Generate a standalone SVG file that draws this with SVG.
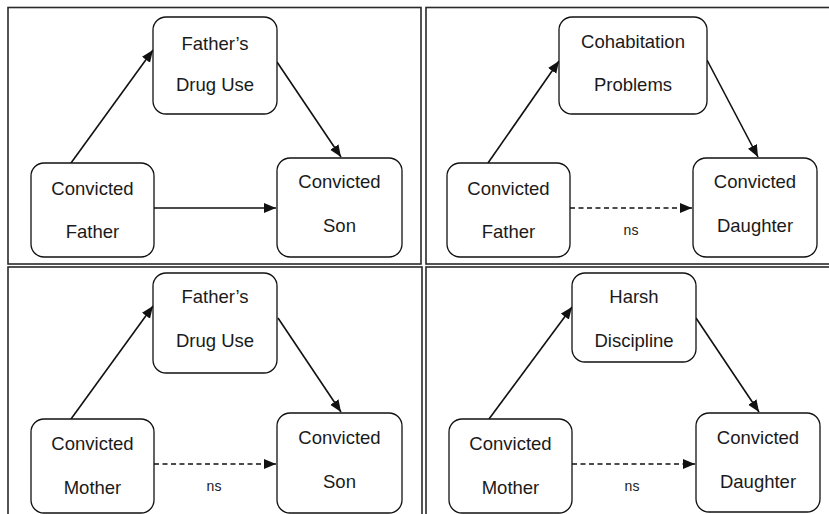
<svg xmlns="http://www.w3.org/2000/svg" width="829" height="514" viewBox="0 0 829 514">
<style>
.frame{fill:none;stroke:#2a2a2a;stroke-width:1.6}
.node rect{fill:#fff;stroke:#111;stroke-width:1.3}
.node text{font-family:"Liberation Sans",Arial,sans-serif;font-size:18.5px;fill:#1a1a1a;text-anchor:middle}
.edge{stroke:#111;stroke-width:1.6;fill:none;marker-end:url(#ah)}
.dash{stroke-dasharray:5 3.5}
.lbl{font-family:"Liberation Sans",Arial,sans-serif;font-size:14px;fill:#1a1a1a;text-anchor:middle}
</style>
<defs>
<marker id="ah" markerUnits="userSpaceOnUse" markerWidth="14" markerHeight="12" refX="12" refY="5" orient="auto">
<path d="M0,0 L12,5 L0,10 z" fill="#111"/>
</marker>
</defs>
<rect width="829" height="514" fill="#fff"/>
<g id="frames">
<rect class="frame" x="8" y="7.5" width="413" height="256.5"/>
<rect class="frame" x="426" y="7.5" width="420" height="256.5"/>
<rect class="frame" x="8" y="267" width="414" height="260"/>
<rect class="frame" x="426" y="267" width="420" height="260"/>
</g>
<g id="connectors">
<line class="edge" x1="71" y1="163" x2="153" y2="50"/>
<line class="edge" x1="277" y1="62" x2="341" y2="157"/>
<line class="edge" x1="154" y1="208" x2="276" y2="208"/>
<line class="edge" x1="488" y1="163" x2="559" y2="61"/>
<line class="edge" x1="707" y1="60" x2="758" y2="157"/>
<line class="edge dash" x1="570" y1="208" x2="692" y2="208"/>
<line class="edge" x1="71" y1="419" x2="153" y2="306"/>
<line class="edge" x1="278" y1="318" x2="341" y2="412"/>
<line class="edge dash" x1="154" y1="464" x2="276" y2="464"/>
<line class="edge" x1="489" y1="419" x2="572" y2="307"/>
<line class="edge" x1="696" y1="318" x2="759" y2="412"/>
<line class="edge dash" x1="572" y1="464" x2="695" y2="464"/>
</g>
<g id="labels">
<text class="lbl" x="631" y="235">ns</text>
<text class="lbl" x="214" y="491">ns</text>
<text class="lbl" x="632" y="491">ns</text>
</g>
<g id="p1-drug" class="node"><rect x="153" y="17" width="124" height="97" rx="13"/><text x="215" y="50">Father’s</text><text x="215" y="91">Drug Use</text></g>
<g id="p1-father" class="node"><rect x="31" y="163" width="123" height="94" rx="13"/><text x="92.5" y="195">Convicted</text><text x="92.5" y="238">Father</text></g>
<g id="p1-son" class="node"><rect x="277" y="158" width="125" height="99" rx="13"/><text x="339.5" y="188">Convicted</text><text x="339.5" y="232">Son</text></g>
<g id="p2-cohab" class="node"><rect x="559" y="17" width="148" height="97" rx="13"/><text x="633" y="48">Cohabitation</text><text x="633" y="91">Problems</text></g>
<g id="p2-father" class="node"><rect x="447" y="163" width="123" height="94" rx="13"/><text x="508.5" y="195">Convicted</text><text x="508.5" y="238">Father</text></g>
<g id="p2-daughter" class="node"><rect x="693" y="158" width="124" height="99" rx="13"/><text x="755" y="188">Convicted</text><text x="755" y="232">Daughter</text></g>
<g id="p3-drug" class="node"><rect x="153" y="273" width="124" height="100" rx="13"/><text x="215" y="303">Father’s</text><text x="215" y="347">Drug Use</text></g>
<g id="p3-mother" class="node"><rect x="31" y="419" width="123" height="94" rx="13"/><text x="92.5" y="450">Convicted</text><text x="92.5" y="494">Mother</text></g>
<g id="p3-son" class="node"><rect x="277" y="413" width="125" height="100" rx="13"/><text x="339.5" y="444">Convicted</text><text x="339.5" y="488">Son</text></g>
<g id="p4-harsh" class="node"><rect x="572" y="273" width="124" height="89" rx="13"/><text x="634" y="303">Harsh</text><text x="634" y="347">Discipline</text></g>
<g id="p4-mother" class="node"><rect x="449" y="419" width="123" height="94" rx="13"/><text x="510.5" y="450">Convicted</text><text x="510.5" y="494">Mother</text></g>
<g id="p4-daughter" class="node"><rect x="696" y="413" width="124" height="99" rx="13"/><text x="758" y="444">Convicted</text><text x="758" y="488">Daughter</text></g>
</svg>
